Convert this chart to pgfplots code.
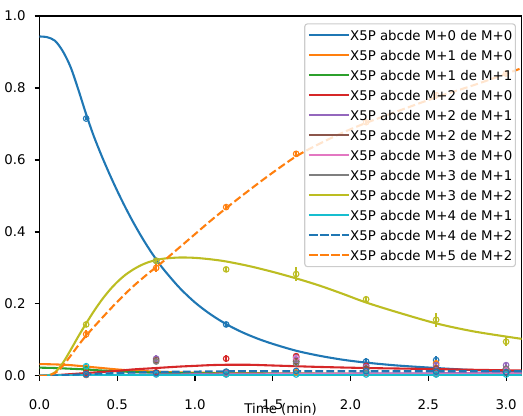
\documentclass[border=0pt]{standalone}
\usepackage{fontspec}
\setmainfont{DejaVu Sans}
\usepackage{pgfplots}
\pgfplotsset{compat=1.18}
\definecolor{C0}{HTML}{1F77B4}
\definecolor{C1}{HTML}{FF7F0E}
\definecolor{C2}{HTML}{2CA02C}
\definecolor{C3}{HTML}{D62728}
\definecolor{C4}{HTML}{9467BD}
\definecolor{C5}{HTML}{8C564B}
\definecolor{C6}{HTML}{E377C2}
\definecolor{C7}{HTML}{7F7F7F}
\definecolor{C8}{HTML}{BCBD22}
\definecolor{C9}{HTML}{17BECF}
\pgfplotsset{
  curve/.style={line width=1.5pt},
  dcurve/.style={line width=1.5pt, dash pattern=on 5.55pt off 2.4pt},
  datapts/.style={forget plot, only marks, mark=o, mark size=2pt, mark options={line width=0.8pt, solid},
    error bars/.cd, y dir=both, y explicit, error mark=none, error bar style={line width=1pt, solid}, /pgfplots/.cd},
}
\begin{document}
\begin{tikzpicture}
\begin{axis}[
  scale only axis, width=347.2pt, height=259.2pt,
  xmin=0, xmax=3.1, ymin=0, ymax=1,
  xtick={0,0.5,1,1.5,2,2.5,3}, xticklabels={0.0,0.5,1.0,1.5,2.0,2.5,3.0},
  ytick={0,0.2,0.4,0.6,0.8,1}, yticklabels={0.0,0.2,0.4,0.6,0.8,1.0},
  tick pos=left, tick align=outside, major tick length=3.5pt,
  major tick style={line width=0.8pt, black},
  axis line style={line width=0.8pt, black},
  tick label style={font=\fontsize{9.6pt}{11.5pt}\selectfont},
  xticklabel style={anchor=base, inner sep=0pt, yshift=-21pt},
  yticklabel style={anchor=east, inner sep=0pt, xshift=-6.34pt},
  xlabel={Time (min)},
  xlabel style={at={(axis description cs:0.5,0)}, anchor=base, inner sep=0pt, yshift=-27.4pt, font=\fontsize{9.6pt}{11.5pt}\selectfont},
  legend cell align=left,
  legend style={
    at={(rel axis cs:1,1)}, anchor=north east, xshift=-4.1pt, yshift=-5.3pt,
    draw=black!20, line width=0.8pt, rounded corners=2pt,
    fill=white, fill opacity=0.8, draw opacity=1, text opacity=1,
    inner xsep=2.2pt, inner ysep=1pt, row sep=0pt, column sep=0pt,
    font=\fontsize{9.6pt}{11.5pt}\selectfont,
    nodes={inner sep=0pt, text height=10.85pt, text depth=3.55pt},
  },
  legend image code/.code={\draw[#1] (1pt,0pt) -- (22.1pt,0pt); \path (0pt,0pt) -- (29pt,0pt);},
]
% ---- model curves ----
\addplot[C0, curve, smooth] coordinates {(0,0.943) (0.05,0.941) (0.1,0.931) (0.15,0.902) (0.2,0.858) (0.25,0.795) (0.3,0.727) (0.35,0.665) (0.4,0.611) (0.45,0.561) (0.5,0.514) (0.55,0.470) (0.6,0.429) (0.65,0.391) (0.7,0.356) (0.75,0.324) (0.8,0.295) (0.9,0.245) (1.0,0.204) (1.1,0.171) (1.2,0.144) (1.3,0.122) (1.4,0.104) (1.5,0.089) (1.65,0.070) (1.8,0.056) (1.95,0.045) (2.1,0.037) (2.3,0.029) (2.55,0.022) (2.8,0.016) (3.1,0.011)};
\addlegendentry{X5P abcde M+0 de M+0}
\addplot[C1, curve, smooth] coordinates {(0,0.033) (0.1,0.032) (0.2,0.030) (0.3,0.026) (0.4,0.022) (0.5,0.018) (0.6,0.015) (0.75,0.012) (0.9,0.010) (1.2,0.008) (1.6,0.007) (2.1,0.006) (2.6,0.005) (3.1,0.005)};
\addlegendentry{X5P abcde M+1 de M+0}
\addplot[C2, curve, smooth] coordinates {(0,0.023) (0.1,0.022) (0.2,0.020) (0.3,0.018) (0.4,0.015) (0.5,0.013) (0.6,0.011) (0.75,0.009) (1.0,0.007) (1.5,0.006) (2.1,0.005) (3.1,0.004)};
\addlegendentry{X5P abcde M+1 de M+1}
\addplot[C3, curve, smooth] coordinates {(0,0) (0.1,0.002) (0.2,0.005) (0.3,0.008) (0.4,0.011) (0.5,0.014) (0.6,0.018) (0.75,0.022) (0.9,0.026) (1.0,0.028) (1.1,0.030) (1.2,0.031) (1.35,0.031) (1.5,0.029) (1.65,0.027) (1.8,0.025) (2.1,0.022) (2.55,0.019) (2.8,0.017) (3.1,0.015)};
\addlegendentry{X5P abcde M+2 de M+0}
\addplot[C4, curve] coordinates {(0,0) (0.3,0.002) (0.75,0.004) (1.5,0.006) (2.3,0.007) (3.1,0.008)};
\addlegendentry{X5P abcde M+2 de M+1}
\addplot[C5, curve] coordinates {(0,0) (0.5,0.002) (1.5,0.004) (3.1,0.005)};
\addlegendentry{X5P abcde M+2 de M+2}
\addplot[C6, curve] coordinates {(0,0) (0.5,0.002) (1.2,0.004) (2.1,0.006) (3.1,0.007)};
\addlegendentry{X5P abcde M+3 de M+0}
\addplot[C7, curve] coordinates {(0,0.001) (1,0.002) (3.1,0.003)};
\addlegendentry{X5P abcde M+3 de M+1}
\addplot[C8, curve, smooth] coordinates {(0,0) (0.05,0.001) (0.1,0.010) (0.15,0.036) (0.2,0.072) (0.25,0.110) (0.3,0.146) (0.35,0.180) (0.4,0.211) (0.45,0.238) (0.5,0.261) (0.55,0.280) (0.6,0.295) (0.65,0.307) (0.7,0.316) (0.75,0.322) (0.8,0.326) (0.9,0.329) (1.0,0.328) (1.1,0.324) (1.2,0.318) (1.35,0.305) (1.5,0.289) (1.65,0.271) (1.8,0.251) (1.95,0.228) (2.1,0.204) (2.3,0.177) (2.55,0.146) (2.8,0.123) (3.1,0.103)};
\addlegendentry{X5P abcde M+3 de M+2}
\addplot[C9, curve] coordinates {(0,0.001) (0.3,0.002) (1,0.002) (3.1,0.002)};
\addlegendentry{X5P abcde M+4 de M+1}
\addplot[C0, dcurve, smooth] coordinates {(0,0) (0.1,0.001) (0.2,0.003) (0.3,0.005) (0.5,0.008) (0.75,0.011) (1.0,0.012) (1.3,0.013) (3.1,0.013)};
\addlegendentry{X5P abcde M+4 de M+2}
\addplot[C1, dcurve, smooth] coordinates {(0,0) (0.05,0.001) (0.1,0.008) (0.15,0.028) (0.2,0.056) (0.25,0.085) (0.3,0.112) (0.4,0.160) (0.5,0.206) (0.6,0.248) (0.7,0.285) (0.75,0.302) (0.8,0.320) (0.9,0.357) (1.0,0.394) (1.1,0.431) (1.2,0.466) (1.3,0.500) (1.4,0.533) (1.5,0.565) (1.65,0.610) (1.8,0.645) (1.95,0.676) (2.1,0.703) (2.3,0.735) (2.55,0.774) (2.8,0.809) (3.1,0.855)};
\addlegendentry{X5P abcde M+5 de M+2}
% ---- measured points ----
\addplot[C0, datapts] table[x=t, y=v, y error=e] {
t v e
0.3 0.715 0.005
0.75 0.320 0.008
1.2 0.143 0.006
1.65 0.052 0.006
2.1 0.040 0.010
2.55 0.044 0.012
3.0 0.012 0.005
};
\addplot[C1, datapts] table[x=t, y=v, y error=e] {
t v e
0.3 0.022 0.004
0.75 0.008 0.003
1.2 0.010 0.003
1.65 0.010 0.003
2.1 0.020 0.004
2.55 0.035 0.008
3.0 0.010 0.003
};
\addplot[C2, datapts] table[x=t, y=v, y error=e] {
t v e
0.3 0.018 0.004
0.75 0.008 0.003
1.2 0.008 0.003
1.65 0.040 0.008
2.1 0.020 0.004
2.55 0.020 0.004
3.0 0.010 0.003
};
\addplot[C3, datapts] table[x=t, y=v, y error=e] {
t v e
0.3 0.008 0.003
0.75 0.010 0.003
1.2 0.048 0.010
1.65 0.055 0.008
2.1 0.028 0.005
2.55 0.020 0.005
3.0 0.010 0.003
};
\addplot[C4, datapts] table[x=t, y=v, y error=e] {
t v e
0.3 0.005 0.003
0.75 0.048 0.010
1.2 0.008 0.003
1.65 0.045 0.006
2.1 0.025 0.005
2.55 0.030 0.006
3.0 0.030 0.010
};
\addplot[C5, datapts] table[x=t, y=v, y error=e] {
t v e
0.3 0.003 0.002
0.75 0.044 0.008
1.2 0.006 0.003
1.65 0.040 0.006
2.1 0.020 0.004
2.55 0.020 0.004
3.0 0.020 0.006
};
\addplot[C6, datapts] table[x=t, y=v, y error=e] {
t v e
0.3 0.004 0.002
0.75 0.006 0.003
1.2 0.006 0.003
1.65 0.050 0.006
2.1 0.010 0.003
2.55 0.006 0.003
3.0 0.015 0.004
};
\addplot[C7, datapts] table[x=t, y=v, y error=e] {
t v e
0.3 0.003 0.002
0.75 0.040 0.006
1.2 0.005 0.002
1.65 0.035 0.005
2.1 0.008 0.003
2.55 0.005 0.002
3.0 0.020 0.005
};
\addplot[C8, datapts] table[x=t, y=v, y error=e] {
t v e
0.3 0.143 0.008
0.75 0.320 0.008
1.2 0.296 0.006
1.65 0.283 0.020
2.1 0.213 0.010
2.55 0.156 0.020
3.0 0.095 0.013
};
\addplot[C9, datapts] table[x=t, y=v, y error=e] {
t v e
0.3 0.027 0.008
0.75 0.004 0.002
1.2 0.004 0.002
1.65 0.004 0.002
2.1 0.004 0.002
2.55 0.004 0.002
3.0 0.004 0.002
};
\addplot[C0, datapts] table[x=t, y=v, y error=e] {
t v e
0.3 0.005 0.002
0.75 0.008 0.003
1.2 0.012 0.003
1.65 0.014 0.003
2.1 0.013 0.003
2.55 0.012 0.003
3.0 0.010 0.003
};
\addplot[C1, datapts] table[x=t, y=v, y error=e] {
t v e
0.3 0.116 0.012
0.75 0.300 0.012
1.2 0.469 0.008
1.65 0.617 0.008
2.1 0.705 0.008
2.55 0.780 0.010
3.0 0.840 0.010
};
\end{axis}
\pgfresetboundingbox
\path[use as bounding box] ([shift={(-28.44pt,-28.8pt)}]current axis.south west) rectangle ++(376.6pt,299.5pt);
\end{tikzpicture}
\end{document}
